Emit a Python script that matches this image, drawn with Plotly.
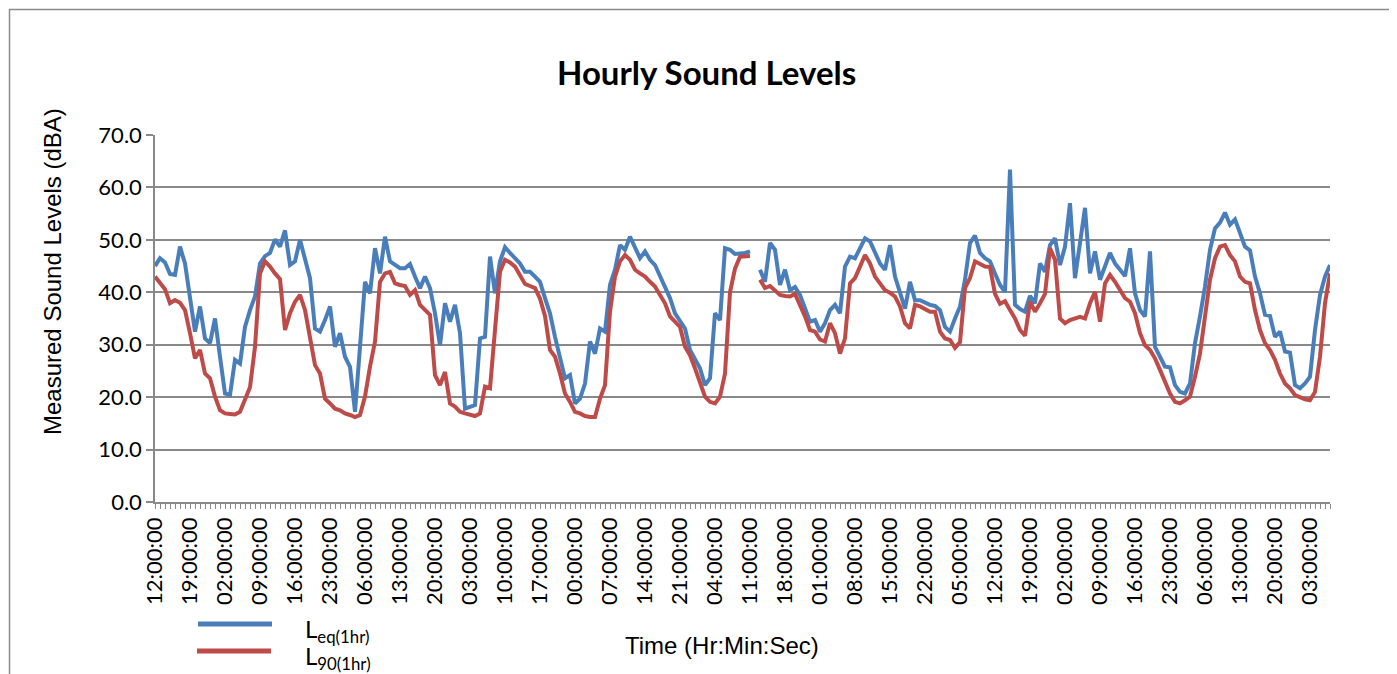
import plotly.graph_objects as go

# ---------------- data ----------------
tick_labels = [
    "12:00:00", "19:00:00", "02:00:00", "09:00:00", "16:00:00", "23:00:00",
    "06:00:00", "13:00:00", "20:00:00", "03:00:00", "10:00:00", "17:00:00",
    "00:00:00", "07:00:00", "14:00:00", "21:00:00", "04:00:00", "11:00:00",
    "18:00:00", "01:00:00", "08:00:00", "15:00:00", "22:00:00", "05:00:00",
    "12:00:00", "19:00:00", "02:00:00", "09:00:00", "16:00:00", "23:00:00",
    "06:00:00", "13:00:00", "20:00:00", "03:00:00",
]
label_every = 7

leq_1hr = [
    45.0, 46.5, 45.7, 43.5, 43.3, 48.7, 45.5, 39.5, 32.5, 37.3,
    31.2, 30.3, 35.0, 27.7, 20.7, 20.4, 27.1, 26.4, 33.4, 36.6,
    39.2, 45.5, 46.9, 47.5, 50.1, 48.7, 51.8, 45.2, 45.9, 50.0,
    46.5, 42.7, 33.1, 32.5, 34.7, 37.3, 29.6, 32.2, 27.7, 25.8,
    17.2, 29.6, 42.0, 39.8, 48.4, 43.6, 50.6, 45.9, 45.2, 44.6,
    44.6, 45.4, 43.0, 40.8, 43.0, 40.8, 36.0, 29.9, 37.9, 34.4,
    37.6, 32.2, 17.8, 18.2, 18.5, 31.2, 31.5, 46.8, 39.8, 45.9,
    48.6, 47.5, 46.5, 45.5, 43.9, 43.9, 43.0, 42.0, 38.9, 36.0,
    31.5, 27.7, 23.6, 24.2, 18.8, 19.7, 22.6, 30.6, 28.3, 33.1,
    32.5, 41.4, 44.3, 49.0, 48.1, 50.6, 48.7, 46.5, 47.8, 46.2,
    45.2, 43.0, 41.1, 38.9, 36.0, 34.7, 33.1, 29.0, 27.1, 25.5,
    22.3, 23.6, 36.0, 34.7, 48.4, 48.1, 47.3, 47.4, 47.5, 47.8,
    None, 44.3, 42.0, 49.4, 48.1, 41.4, 44.3, 40.4, 41.0, 39.5,
    36.9, 34.4, 34.7, 32.5, 34.1, 36.6, 37.6, 36.0, 44.9, 46.8,
    46.5, 48.4, 50.3, 49.7, 47.5, 45.5, 44.3, 49.0, 43.0, 39.8,
    36.9, 42.0, 38.5, 38.5, 38.0, 37.6, 37.4, 36.6, 33.4, 32.5,
    35.0, 37.3, 42.4, 49.4, 50.8, 47.5, 46.5, 45.9, 43.6, 41.4,
    40.1, 63.4, 37.6, 36.8, 36.3, 39.3, 37.9, 45.5, 43.9, 49.0,
    50.3, 45.2, 48.7, 57.0, 42.7, 49.4, 56.1, 43.6, 47.8, 42.4,
    44.9, 47.5, 45.5, 44.3, 43.1, 48.4, 39.8, 36.6, 35.4, 47.8,
    29.6, 27.7, 25.8, 25.7, 22.3, 21.0, 20.7, 22.6, 30.3, 35.4,
    41.1, 48.1, 52.2, 53.3, 55.2, 52.9, 53.9, 51.3, 48.7, 48.0,
    43.0, 39.8, 35.7, 35.5, 31.5, 32.5, 28.7, 28.5, 22.3, 21.7,
    22.6, 23.9, 32.8, 39.5, 43.0, 45.2,
]

l90_1hr = [
    43.0, 41.7, 40.6, 37.9, 38.5, 38.0, 36.6, 32.2, 27.4, 29.0,
    24.5, 23.6, 20.1, 17.5, 16.9, 16.8, 16.7, 17.2, 19.4, 21.9,
    29.6, 43.6, 45.9, 44.9, 43.6, 42.5, 32.8, 36.0, 38.2, 39.5,
    36.6, 31.5, 26.1, 24.5, 19.7, 18.8, 17.8, 17.5, 16.9, 16.6,
    16.2, 16.6, 20.1, 25.8, 30.6, 42.0, 43.6, 43.9, 41.7, 41.4,
    41.2, 39.5, 40.4, 37.6, 36.6, 35.7, 24.2, 22.3, 24.8, 18.8,
    18.2, 17.2, 16.9, 16.6, 16.4, 16.9, 22.0, 21.7, 32.8, 43.9,
    46.2, 45.7, 44.9, 43.3, 41.6, 41.2, 40.8, 38.8, 35.5, 29.0,
    27.7, 24.5, 20.7, 19.1, 17.2, 16.9, 16.4, 16.2, 16.2, 19.7,
    22.3, 36.3, 43.0, 45.9, 47.1, 46.2, 44.3, 43.6, 43.0, 42.0,
    41.1, 39.5, 37.9, 35.4, 34.4, 33.4, 29.6, 28.0, 25.5, 22.9,
    20.1, 19.1, 18.8, 20.1, 24.5, 40.0, 44.5, 46.8, 46.8, 46.9,
    None, 42.4, 40.8, 41.2, 40.4, 39.5, 39.3, 39.2, 39.7, 37.6,
    35.4, 32.8, 32.5, 31.0, 30.6, 34.1, 32.2, 28.3, 31.2, 41.7,
    42.7, 44.9, 47.1, 45.5, 43.0, 41.7, 40.4, 39.9, 39.2, 37.3,
    34.1, 33.1, 37.6, 37.3, 36.9, 36.3, 36.3, 32.5, 31.2, 30.9,
    29.4, 30.5, 40.8, 42.7, 45.9, 45.5, 44.9, 44.8, 39.7, 37.8,
    38.3, 36.6, 35.0, 32.8, 31.7, 38.2, 36.3, 37.9, 39.7, 48.4,
    46.2, 35.0, 34.1, 34.7, 35.0, 35.3, 35.0, 37.9, 40.1, 34.4,
    41.7, 43.3, 42.0, 40.4, 38.9, 38.2, 36.0, 32.2, 29.9, 29.0,
    27.4, 25.2, 22.9, 20.7, 19.1, 18.8, 19.4, 20.1, 23.9, 28.3,
    35.4, 42.4, 46.5, 48.7, 49.0, 47.1, 45.9, 43.0, 42.0, 41.7,
    36.6, 32.8, 30.3, 29.0, 27.1, 24.5, 22.6, 21.7, 20.4, 19.9,
    19.6, 19.4, 21.0, 27.7, 37.9, 43.6,
]

# ---------------- figure ----------------
W, H = 1397, 674
OFF = 8  # page body margin added by the browser
# plot area in the reference picture: x 155..1330, y 135..502
PL, PR, PT, PB = 155, 1330, 135, 502
L = PL - OFF
T = PT - OFF
pw, ph = PR - PL, PB - PT
R = W - L - pw
B = H - T - ph


def px(xp):
    """reference picture x pixel -> paper coordinate"""
    return (xp - PL) / pw


def py(yp):
    """reference picture y pixel -> paper coordinate"""
    return (PB - yp) / ph


n = len(leq_1hr)
x = list(range(n))
ticktext = []
for i in range(n):
    if i % label_every == 0 and i // label_every < len(tick_labels):
        ticktext.append(tick_labels[i // label_every])
    else:
        ticktext.append("")

BLUE = "#4A7EBB"
RED = "#BE4B48"
GRID = "#898989"
LABEL_FONT = "Lato"
ARIAL = "Liberation Sans, Arial"

fig = go.Figure()
fig.add_trace(go.Scatter(x=x, y=leq_1hr, mode="lines", name="Leq(1hr)",
                         line=dict(color=BLUE, width=4), connectgaps=False))
fig.add_trace(go.Scatter(x=x, y=l90_1hr, mode="lines", name="L90(1hr)",
                         line=dict(color=RED, width=4), connectgaps=False))

fig.update_layout(
    width=W, height=H,
    margin=dict(l=L, r=R, t=T, b=B, autoexpand=False),
    paper_bgcolor="white", plot_bgcolor="white",
    showlegend=False,
    font=dict(family=LABEL_FONT, color="black"),
)

fig.update_xaxes(
    range=[0, n - 1],
    tickmode="array", tickvals=x, ticktext=ticktext,
    tickangle=-90, tickfont=dict(family=LABEL_FONT, size=22, color="black"),
    ticks="outside", ticklen=5, tickwidth=1, tickcolor=GRID,
    showline=True, linecolor=GRID, linewidth=1.5,
    showgrid=False, zeroline=False,
)
fig.update_yaxes(
    range=[0, 70], dtick=10, tickformat=".1f",
    tickfont=dict(family=LABEL_FONT, size=22, color="black"),
    ticks="outside", ticklen=7, tickwidth=1.5, tickcolor=GRID,
    showline=True, linecolor=GRID, linewidth=1.5,
    showgrid=True, gridcolor=GRID, gridwidth=1.5,
    zeroline=False,
)

# chart-area border (top and left visible), kept inside the drawable page area
fig.add_shape(type="rect", xref="paper", yref="paper",
              x0=px(OFF + 1.5), x1=px(1420), y0=py(720), y1=py(OFF + 1.5),
              line=dict(color="#8a8a8a", width=1.5), layer="below")

# title
fig.add_annotation(text="<b>Hourly Sound Levels</b>", xref="paper", yref="paper",
                   x=px(706), y=py(72), xanchor="center", yanchor="middle",
                   showarrow=False, font=dict(family=LABEL_FONT, size=33, color="black"))

# axis titles
fig.add_annotation(text="Measured Sound Levels (dBA)", xref="paper", yref="paper",
                   x=px(52), y=py(272), xanchor="center", yanchor="middle",
                   textangle=-90, showarrow=False,
                   font=dict(family=ARIAL, size=24, color="black"))
fig.add_annotation(text="Time (Hr:Min:Sec)", xref="paper", yref="paper",
                   x=px(722), y=py(645), xanchor="center", yanchor="middle",
                   showarrow=False, font=dict(family=ARIAL, size=24, color="black"))

# legend (drawn manually)
fig.add_shape(type="line", xref="paper", yref="paper",
              x0=px(198), x1=px(272), y0=py(624), y1=py(624),
              line=dict(color=BLUE, width=5))
fig.add_shape(type="line", xref="paper", yref="paper",
              x0=px(197), x1=px(271), y0=py(651), y1=py(651),
              line=dict(color=RED, width=5))
fig.add_annotation(text="L<sub>eq(1hr)</sub>", xref="paper", yref="paper",
                   x=px(303), y=py(630), xanchor="left", yanchor="middle",
                   showarrow=False, font=dict(family=LABEL_FONT, size=24, color="black"))
fig.add_annotation(text="L<sub>90(1hr)</sub>", xref="paper", yref="paper",
                   x=px(303), y=py(657), xanchor="left", yanchor="middle",
                   showarrow=False, font=dict(family=LABEL_FONT, size=24, color="black"))

fig.write_html("out.html")
